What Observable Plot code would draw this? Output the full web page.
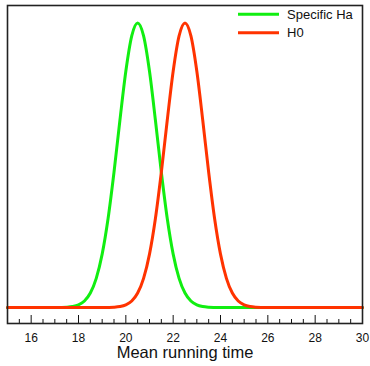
<!DOCTYPE html>
<html><head><meta charset="utf-8">
<script src="https://cdn.jsdelivr.net/npm/d3@7"></script>
<script src="https://cdn.jsdelivr.net/npm/@observablehq/plot@0.6"></script>
<style>
html,body{margin:0;padding:0;background:#fff;}
#wrap{position:relative;width:370px;height:366px;font-family:"Liberation Sans",Arial,sans-serif;}
#legend{position:absolute;left:0;top:0;pointer-events:none;}
</style></head><body><div id="wrap"></div>
<script>
const xValues = [15, 16.5, 16.75, 17, 17.25, 17.5, 17.75, 18, 18.25, 18.5, 18.75, 19, 19.25, 19.5, 19.75, 20, 20.25, 20.5, 20.75, 21, 21.25, 21.5, 21.75, 22, 22.25, 22.5, 22.75, 23, 23.25, 23.5, 23.75, 24, 24.25, 24.5, 24.75, 25, 25.25, 25.5, 25.75, 26, 26.25, 26.5, 30];
const specificHa = [0, 0, 0, 0.0001, 0.0004, 0.0012, 0.0036, 0.0096, 0.0232, 0.0511, 0.1026, 0.1877, 0.3129, 0.4754, 0.6582, 0.8303, 0.9546, 1, 0.9546, 0.8303, 0.6582, 0.4754, 0.3129, 0.1877, 0.1026, 0.0511, 0.0232, 0.0096, 0.0036, 0.0012, 0.0004, 0.0001, 0, 0, 0, 0, 0, 0, 0, 0, 0, 0, 0];
const h0 = [0, 0, 0, 0, 0, 0, 0, 0, 0, 0, 0, 0.0001, 0.0004, 0.0012, 0.0036, 0.0096, 0.0232, 0.0511, 0.1026, 0.1877, 0.3129, 0.4754, 0.6582, 0.8303, 0.9546, 1, 0.9546, 0.8303, 0.6582, 0.4754, 0.3129, 0.1877, 0.1026, 0.0511, 0.0232, 0.0096, 0.0036, 0.0012, 0.0004, 0.0001, 0, 0, 0];
const seriesNames = ["Specific Ha", "H0"];
const seriesColors = ["#11ee11", "#ff3300"];
const majorTicks = [16, 18, 20, 22, 24, 26, 28, 30];
const minorTicks = [15.5, 16.5, 17, 17.5, 18.5, 19, 19.5, 20.5, 21, 21.5, 22.5, 23, 23.5, 24.5, 25, 25.5, 26.5, 27, 27.5, 28.5, 29, 29.5];
const xLabel = "Mean running time";

const series = [specificHa, h0].map(vals => xValues.map((x, i) => ({x, y: vals[i]})));

const chart = Plot.plot({
  width: 370, height: 366,
  marginLeft: 7, marginRight: 8, marginTop: 5, marginBottom: 43,
  x: {domain: [15, 30]},
  y: {domain: [-0.056, 1.0615], axis: null},
  style: {fontFamily: '"Liberation Sans", Arial, sans-serif', fontSize: "12px", background: "white", color: "#111"},
  marks: [
    Plot.line(series[0], {x: "x", y: "y", stroke: seriesColors[0], strokeWidth: 3, curve: "monotone-x"}),
    Plot.line(series[1], {x: "x", y: "y", stroke: seriesColors[1], strokeWidth: 3, curve: "monotone-x"}),
    Plot.ruleX(minorTicks, {stroke: "#111", strokeWidth: 1, insetTop: 314}),
    Plot.ruleX(majorTicks, {stroke: "#111", strokeWidth: 1, insetTop: 310}),
    Plot.axisX(majorTicks, {anchor: "bottom", tickSize: 0, tickPadding: 10, label: null, fontSize: 12}),
    Plot.text([xLabel], {text: d => d, frameAnchor: "bottom", dy: 34.4, fontSize: 16.5, fill: "#111"}),
    Plot.frame({stroke: "#222", strokeWidth: 1.6})
  ]
});
const wrap = document.getElementById("wrap");
wrap.appendChild(chart);

// legend overlay
const ns = "http://www.w3.org/2000/svg";
const leg = document.createElementNS(ns, "svg");
leg.setAttribute("id", "legend");
leg.setAttribute("width", 370);
leg.setAttribute("height", 50);
seriesNames.forEach((name, i) => {
  const cy = 14.3 + i * 18.4;
  const ln = document.createElementNS(ns, "line");
  ln.setAttribute("x1", 238); ln.setAttribute("x2", 279);
  ln.setAttribute("y1", cy); ln.setAttribute("y2", cy);
  ln.setAttribute("stroke", seriesColors[i]); ln.setAttribute("stroke-width", 3);
  leg.appendChild(ln);
  const t = document.createElementNS(ns, "text");
  t.setAttribute("x", 287); t.setAttribute("y", cy + 4.4);
  t.setAttribute("font-size", 13);
  t.setAttribute("font-family", '"Liberation Sans", Arial, sans-serif');
  t.setAttribute("fill", "#111");
  t.textContent = name;
  leg.appendChild(t);
});
wrap.appendChild(leg);
</script></body></html>
